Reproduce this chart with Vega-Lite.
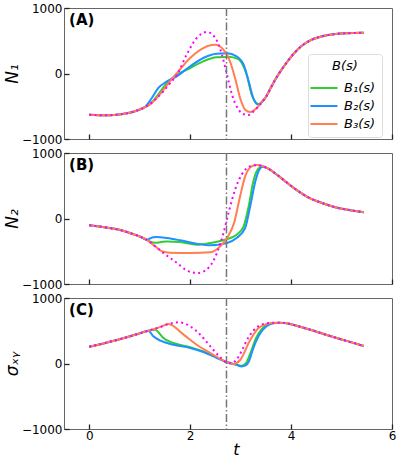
{
"$schema":"https://vega.github.io/schema/vega-lite/v6.json",
"padding":{"left":2,"top":1,"right":3,"bottom":0},
"background":"white",
"spacing":14,
"bounds":"flush",
"config":{"font":"DejaVu Sans","view":{"stroke":"#666","strokeWidth":1},
"axis":{"grid":false,"domain":false,"tickColor":"#222","tickSize":-5,"tickWidth":1.3,"labelFontSize":12,"labelColor":"#000","titleColor":"#000","titleFontWeight":"normal","labelFlush":false,"labelOverlap":false},
"axisY":{"labelPadding":7,"titlePadding":0,"titleFontSize":17,"titleFontStyle":"italic"},
"axisX":{"labelPadding":6,"titlePadding":0,"titleFontSize":16,"titleFontStyle":"italic"}},
"resolve":{"legend":{"color":"independent"}},
"datasets":{"curves":[
{"p":"A","s":"ref","t":0,"v":-630},{"p":"A","s":"ref","t":0.2,"v":-637},{"p":"A","s":"ref","t":0.4,"v":-636},{"p":"A","s":"ref","t":0.6,"v":-625},{"p":"A","s":"ref","t":0.8,"v":-600},{"p":"A","s":"ref","t":0.95,"v":-565},{"p":"A","s":"ref","t":1.1,"v":-515},{"p":"A","s":"ref","t":1.3,"v":-400},{"p":"A","s":"ref","t":1.47,"v":-272},{"p":"A","s":"ref","t":1.6,"v":-150},{"p":"A","s":"ref","t":1.74,"v":-18},{"p":"A","s":"ref","t":1.93,"v":287},{"p":"A","s":"ref","t":2.13,"v":542},{"p":"A","s":"ref","t":2.33,"v":634},{"p":"A","s":"ref","t":2.5,"v":542},{"p":"A","s":"ref","t":2.63,"v":287},{"p":"A","s":"ref","t":2.73,"v":-18},{"p":"A","s":"ref","t":2.83,"v":-323},{"p":"A","s":"ref","t":2.96,"v":-552},{"p":"A","s":"ref","t":3.09,"v":-628},{"p":"A","s":"ref","t":3.16,"v":-634},{"p":"A","s":"ref","t":3.22,"v":-603},{"p":"A","s":"ref","t":3.3,"v":-545},{"p":"A","s":"ref","t":3.4,"v":-460},{"p":"A","s":"ref","t":3.5,"v":-360},{"p":"A","s":"ref","t":3.6,"v":-215},{"p":"A","s":"ref","t":3.72,"v":-50},{"p":"A","s":"ref","t":3.85,"v":100},{"p":"A","s":"ref","t":4.05,"v":300},{"p":"A","s":"ref","t":4.2,"v":415},{"p":"A","s":"ref","t":4.38,"v":505},{"p":"A","s":"ref","t":4.6,"v":565},{"p":"A","s":"ref","t":4.84,"v":600},{"p":"A","s":"ref","t":5.1,"v":615},{"p":"A","s":"ref","t":5.44,"v":622},
{"p":"A","s":"B₁(s)","t":0,"v":-630},{"p":"A","s":"B₁(s)","t":0.2,"v":-637},{"p":"A","s":"B₁(s)","t":0.4,"v":-636},{"p":"A","s":"B₁(s)","t":0.6,"v":-625},{"p":"A","s":"B₁(s)","t":0.8,"v":-600},{"p":"A","s":"B₁(s)","t":0.95,"v":-565},{"p":"A","s":"B₁(s)","t":1.1,"v":-515},{"p":"A","s":"B₁(s)","t":1.2,"v":-470},{"p":"A","s":"B₁(s)","t":1.34,"v":-348},{"p":"A","s":"B₁(s)","t":1.54,"v":-145},{"p":"A","s":"B₁(s)","t":1.74,"v":-18},{"p":"A","s":"B₁(s)","t":2.0,"v":84},{"p":"A","s":"B₁(s)","t":2.26,"v":186},{"p":"A","s":"B₁(s)","t":2.52,"v":247},{"p":"A","s":"B₁(s)","t":2.79,"v":252},{"p":"A","s":"B₁(s)","t":2.92,"v":230},{"p":"A","s":"B₁(s)","t":2.99,"v":196},{"p":"A","s":"B₁(s)","t":3.05,"v":120},{"p":"A","s":"B₁(s)","t":3.12,"v":-18},{"p":"A","s":"B₁(s)","t":3.22,"v":-323},{"p":"A","s":"B₁(s)","t":3.3,"v":-440},{"p":"A","s":"B₁(s)","t":3.36,"v":-468},{"p":"A","s":"B₁(s)","t":3.42,"v":-435},{"p":"A","s":"B₁(s)","t":3.5,"v":-360},{"p":"A","s":"B₁(s)","t":3.6,"v":-215},{"p":"A","s":"B₁(s)","t":3.72,"v":-50},{"p":"A","s":"B₁(s)","t":3.85,"v":100},{"p":"A","s":"B₁(s)","t":4.05,"v":300},{"p":"A","s":"B₁(s)","t":4.2,"v":415},{"p":"A","s":"B₁(s)","t":4.38,"v":505},{"p":"A","s":"B₁(s)","t":4.6,"v":565},{"p":"A","s":"B₁(s)","t":4.84,"v":600},{"p":"A","s":"B₁(s)","t":5.1,"v":615},{"p":"A","s":"B₁(s)","t":5.44,"v":622},
{"p":"A","s":"B₂(s)","t":0,"v":-630},{"p":"A","s":"B₂(s)","t":0.2,"v":-637},{"p":"A","s":"B₂(s)","t":0.4,"v":-636},{"p":"A","s":"B₂(s)","t":0.6,"v":-625},{"p":"A","s":"B₂(s)","t":0.8,"v":-600},{"p":"A","s":"B₂(s)","t":0.95,"v":-565},{"p":"A","s":"B₂(s)","t":1.1,"v":-515},{"p":"A","s":"B₂(s)","t":1.24,"v":-374},{"p":"A","s":"B₂(s)","t":1.37,"v":-221},{"p":"A","s":"B₂(s)","t":1.54,"v":-120},{"p":"A","s":"B₂(s)","t":1.74,"v":-40},{"p":"A","s":"B₂(s)","t":2.0,"v":110},{"p":"A","s":"B₂(s)","t":2.26,"v":237},{"p":"A","s":"B₂(s)","t":2.52,"v":303},{"p":"A","s":"B₂(s)","t":2.73,"v":308},{"p":"A","s":"B₂(s)","t":2.92,"v":262},{"p":"A","s":"B₂(s)","t":3.06,"v":135},{"p":"A","s":"B₂(s)","t":3.16,"v":-120},{"p":"A","s":"B₂(s)","t":3.25,"v":-374},{"p":"A","s":"B₂(s)","t":3.31,"v":-460},{"p":"A","s":"B₂(s)","t":3.36,"v":-478},{"p":"A","s":"B₂(s)","t":3.42,"v":-440},{"p":"A","s":"B₂(s)","t":3.5,"v":-360},{"p":"A","s":"B₂(s)","t":3.6,"v":-215},{"p":"A","s":"B₂(s)","t":3.72,"v":-50},{"p":"A","s":"B₂(s)","t":3.85,"v":100},{"p":"A","s":"B₂(s)","t":4.05,"v":300},{"p":"A","s":"B₂(s)","t":4.2,"v":415},{"p":"A","s":"B₂(s)","t":4.38,"v":505},{"p":"A","s":"B₂(s)","t":4.6,"v":565},{"p":"A","s":"B₂(s)","t":4.84,"v":600},{"p":"A","s":"B₂(s)","t":5.1,"v":615},{"p":"A","s":"B₂(s)","t":5.44,"v":622},
{"p":"A","s":"B₃(s)","t":0,"v":-630},{"p":"A","s":"B₃(s)","t":0.2,"v":-637},{"p":"A","s":"B₃(s)","t":0.4,"v":-636},{"p":"A","s":"B₃(s)","t":0.6,"v":-625},{"p":"A","s":"B₃(s)","t":0.8,"v":-600},{"p":"A","s":"B₃(s)","t":0.95,"v":-565},{"p":"A","s":"B₃(s)","t":1.1,"v":-515},{"p":"A","s":"B₃(s)","t":1.2,"v":-475},{"p":"A","s":"B₃(s)","t":1.3,"v":-405},{"p":"A","s":"B₃(s)","t":1.47,"v":-250},{"p":"A","s":"B₃(s)","t":1.6,"v":-120},{"p":"A","s":"B₃(s)","t":1.74,"v":8},{"p":"A","s":"B₃(s)","t":2.0,"v":237},{"p":"A","s":"B₃(s)","t":2.26,"v":389},{"p":"A","s":"B₃(s)","t":2.42,"v":435},{"p":"A","s":"B₃(s)","t":2.5,"v":440},{"p":"A","s":"B₃(s)","t":2.58,"v":420},{"p":"A","s":"B₃(s)","t":2.66,"v":363},{"p":"A","s":"B₃(s)","t":2.79,"v":186},{"p":"A","s":"B₃(s)","t":2.89,"v":-69},{"p":"A","s":"B₃(s)","t":2.99,"v":-374},{"p":"A","s":"B₃(s)","t":3.09,"v":-552},{"p":"A","s":"B₃(s)","t":3.19,"v":-588},{"p":"A","s":"B₃(s)","t":3.32,"v":-527},{"p":"A","s":"B₃(s)","t":3.42,"v":-430},{"p":"A","s":"B₃(s)","t":3.5,"v":-360},{"p":"A","s":"B₃(s)","t":3.6,"v":-215},{"p":"A","s":"B₃(s)","t":3.72,"v":-50},{"p":"A","s":"B₃(s)","t":3.85,"v":100},{"p":"A","s":"B₃(s)","t":4.05,"v":300},{"p":"A","s":"B₃(s)","t":4.2,"v":415},{"p":"A","s":"B₃(s)","t":4.38,"v":505},{"p":"A","s":"B₃(s)","t":4.6,"v":565},{"p":"A","s":"B₃(s)","t":4.84,"v":600},{"p":"A","s":"B₃(s)","t":5.1,"v":615},{"p":"A","s":"B₃(s)","t":5.44,"v":622},
{"p":"B","s":"ref","t":0,"v":-104},{"p":"B","s":"ref","t":0.2,"v":-122},{"p":"B","s":"ref","t":0.4,"v":-145},{"p":"B","s":"ref","t":0.55,"v":-165},{"p":"B","s":"ref","t":0.7,"v":-195},{"p":"B","s":"ref","t":0.88,"v":-241},{"p":"B","s":"ref","t":1.0,"v":-275},{"p":"B","s":"ref","t":1.14,"v":-325},{"p":"B","s":"ref","t":1.3,"v":-420},{"p":"B","s":"ref","t":1.47,"v":-527},{"p":"B","s":"ref","t":1.74,"v":-679},{"p":"B","s":"ref","t":1.93,"v":-791},{"p":"B","s":"ref","t":2.05,"v":-825},{"p":"B","s":"ref","t":2.16,"v":-832},{"p":"B","s":"ref","t":2.26,"v":-810},{"p":"B","s":"ref","t":2.36,"v":-756},{"p":"B","s":"ref","t":2.45,"v":-660},{"p":"B","s":"ref","t":2.53,"v":-527},{"p":"B","s":"ref","t":2.66,"v":-221},{"p":"B","s":"ref","t":2.76,"v":84},{"p":"B","s":"ref","t":2.89,"v":440},{"p":"B","s":"ref","t":3.02,"v":669},{"p":"B","s":"ref","t":3.1,"v":750},{"p":"B","s":"ref","t":3.19,"v":797},{"p":"B","s":"ref","t":3.32,"v":815},{"p":"B","s":"ref","t":3.42,"v":805},{"p":"B","s":"ref","t":3.55,"v":760},{"p":"B","s":"ref","t":3.7,"v":680},{"p":"B","s":"ref","t":3.85,"v":590},{"p":"B","s":"ref","t":4.1,"v":440},{"p":"B","s":"ref","t":4.31,"v":335},{"p":"B","s":"ref","t":4.6,"v":240},{"p":"B","s":"ref","t":4.84,"v":180},{"p":"B","s":"ref","t":5.15,"v":130},{"p":"B","s":"ref","t":5.44,"v":95},
{"p":"B","s":"B₁(s)","t":0,"v":-104},{"p":"B","s":"B₁(s)","t":0.2,"v":-122},{"p":"B","s":"B₁(s)","t":0.4,"v":-145},{"p":"B","s":"B₁(s)","t":0.55,"v":-165},{"p":"B","s":"B₁(s)","t":0.7,"v":-195},{"p":"B","s":"B₁(s)","t":0.88,"v":-241},{"p":"B","s":"B₁(s)","t":1.0,"v":-275},{"p":"B","s":"B₁(s)","t":1.14,"v":-325},{"p":"B","s":"B₁(s)","t":1.2,"v":-350},{"p":"B","s":"B₁(s)","t":1.31,"v":-372},{"p":"B","s":"B₁(s)","t":1.42,"v":-360},{"p":"B","s":"B₁(s)","t":1.54,"v":-350},{"p":"B","s":"B₁(s)","t":1.8,"v":-359},{"p":"B","s":"B₁(s)","t":2.13,"v":-400},{"p":"B","s":"B₁(s)","t":2.4,"v":-374},{"p":"B","s":"B₁(s)","t":2.73,"v":-313},{"p":"B","s":"B₁(s)","t":2.92,"v":-247},{"p":"B","s":"B₁(s)","t":3.06,"v":-119},{"p":"B","s":"B₁(s)","t":3.16,"v":186},{"p":"B","s":"B₁(s)","t":3.25,"v":560},{"p":"B","s":"B₁(s)","t":3.34,"v":750},{"p":"B","s":"B₁(s)","t":3.42,"v":795},{"p":"B","s":"B₁(s)","t":3.55,"v":760},{"p":"B","s":"B₁(s)","t":3.7,"v":680},{"p":"B","s":"B₁(s)","t":3.85,"v":590},{"p":"B","s":"B₁(s)","t":4.1,"v":440},{"p":"B","s":"B₁(s)","t":4.31,"v":335},{"p":"B","s":"B₁(s)","t":4.6,"v":240},{"p":"B","s":"B₁(s)","t":4.84,"v":180},{"p":"B","s":"B₁(s)","t":5.15,"v":130},{"p":"B","s":"B₁(s)","t":5.44,"v":95},
{"p":"B","s":"B₂(s)","t":0,"v":-104},{"p":"B","s":"B₂(s)","t":0.2,"v":-122},{"p":"B","s":"B₂(s)","t":0.4,"v":-145},{"p":"B","s":"B₂(s)","t":0.55,"v":-165},{"p":"B","s":"B₂(s)","t":0.7,"v":-195},{"p":"B","s":"B₂(s)","t":0.88,"v":-241},{"p":"B","s":"B₂(s)","t":1.0,"v":-275},{"p":"B","s":"B₂(s)","t":1.14,"v":-325},{"p":"B","s":"B₂(s)","t":1.2,"v":-305},{"p":"B","s":"B₂(s)","t":1.27,"v":-285},{"p":"B","s":"B₂(s)","t":1.34,"v":-282},{"p":"B","s":"B₂(s)","t":1.54,"v":-298},{"p":"B","s":"B₂(s)","t":1.8,"v":-333},{"p":"B","s":"B₂(s)","t":2.13,"v":-385},{"p":"B","s":"B₂(s)","t":2.4,"v":-410},{"p":"B","s":"B₂(s)","t":2.73,"v":-374},{"p":"B","s":"B₂(s)","t":2.92,"v":-298},{"p":"B","s":"B₂(s)","t":3.09,"v":-145},{"p":"B","s":"B₂(s)","t":3.19,"v":186},{"p":"B","s":"B₂(s)","t":3.29,"v":560},{"p":"B","s":"B₂(s)","t":3.37,"v":745},{"p":"B","s":"B₂(s)","t":3.44,"v":790},{"p":"B","s":"B₂(s)","t":3.55,"v":760},{"p":"B","s":"B₂(s)","t":3.7,"v":680},{"p":"B","s":"B₂(s)","t":3.85,"v":590},{"p":"B","s":"B₂(s)","t":4.1,"v":440},{"p":"B","s":"B₂(s)","t":4.31,"v":335},{"p":"B","s":"B₂(s)","t":4.6,"v":240},{"p":"B","s":"B₂(s)","t":4.84,"v":180},{"p":"B","s":"B₂(s)","t":5.15,"v":130},{"p":"B","s":"B₂(s)","t":5.44,"v":95},
{"p":"B","s":"B₃(s)","t":0,"v":-104},{"p":"B","s":"B₃(s)","t":0.2,"v":-122},{"p":"B","s":"B₃(s)","t":0.4,"v":-145},{"p":"B","s":"B₃(s)","t":0.55,"v":-165},{"p":"B","s":"B₃(s)","t":0.7,"v":-195},{"p":"B","s":"B₃(s)","t":0.88,"v":-241},{"p":"B","s":"B₃(s)","t":1.0,"v":-275},{"p":"B","s":"B₃(s)","t":1.14,"v":-325},{"p":"B","s":"B₃(s)","t":1.3,"v":-420},{"p":"B","s":"B₃(s)","t":1.45,"v":-505},{"p":"B","s":"B₃(s)","t":1.6,"v":-522},{"p":"B","s":"B₃(s)","t":2.0,"v":-527},{"p":"B","s":"B₃(s)","t":2.4,"v":-516},{"p":"B","s":"B₃(s)","t":2.56,"v":-450},{"p":"B","s":"B₃(s)","t":2.73,"v":-298},{"p":"B","s":"B₃(s)","t":2.87,"v":-69},{"p":"B","s":"B₃(s)","t":2.99,"v":339},{"p":"B","s":"B₃(s)","t":3.09,"v":644},{"p":"B","s":"B₃(s)","t":3.22,"v":797},{"p":"B","s":"B₃(s)","t":3.32,"v":815},{"p":"B","s":"B₃(s)","t":3.42,"v":805},{"p":"B","s":"B₃(s)","t":3.55,"v":760},{"p":"B","s":"B₃(s)","t":3.7,"v":680},{"p":"B","s":"B₃(s)","t":3.85,"v":590},{"p":"B","s":"B₃(s)","t":4.1,"v":440},{"p":"B","s":"B₃(s)","t":4.31,"v":335},{"p":"B","s":"B₃(s)","t":4.6,"v":240},{"p":"B","s":"B₃(s)","t":4.84,"v":180},{"p":"B","s":"B₃(s)","t":5.15,"v":130},{"p":"B","s":"B₃(s)","t":5.44,"v":95},
{"p":"C","s":"ref","t":0,"v":257},{"p":"C","s":"ref","t":0.3,"v":310},{"p":"C","s":"ref","t":0.55,"v":359},{"p":"C","s":"ref","t":0.81,"v":415},{"p":"C","s":"ref","t":1.0,"v":460},{"p":"C","s":"ref","t":1.17,"v":501},{"p":"C","s":"ref","t":1.4,"v":555},{"p":"C","s":"ref","t":1.57,"v":603},{"p":"C","s":"ref","t":1.77,"v":628},{"p":"C","s":"ref","t":1.9,"v":610},{"p":"C","s":"ref","t":2.0,"v":568},{"p":"C","s":"ref","t":2.1,"v":510},{"p":"C","s":"ref","t":2.2,"v":440},{"p":"C","s":"ref","t":2.4,"v":262},{"p":"C","s":"ref","t":2.59,"v":100},{"p":"C","s":"ref","t":2.73,"v":15},{"p":"C","s":"ref","t":2.83,"v":10},{"p":"C","s":"ref","t":2.92,"v":60},{"p":"C","s":"ref","t":3.02,"v":190},{"p":"C","s":"ref","t":3.12,"v":350},{"p":"C","s":"ref","t":3.25,"v":500},{"p":"C","s":"ref","t":3.4,"v":590},{"p":"C","s":"ref","t":3.6,"v":620},{"p":"C","s":"ref","t":3.78,"v":623},{"p":"C","s":"ref","t":4.0,"v":600},{"p":"C","s":"ref","t":4.18,"v":562},{"p":"C","s":"ref","t":4.45,"v":500},{"p":"C","s":"ref","t":4.71,"v":435},{"p":"C","s":"ref","t":5.0,"v":367},{"p":"C","s":"ref","t":5.2,"v":322},{"p":"C","s":"ref","t":5.44,"v":267},
{"p":"C","s":"B₁(s)","t":0,"v":257},{"p":"C","s":"B₁(s)","t":0.3,"v":310},{"p":"C","s":"B₁(s)","t":0.55,"v":359},{"p":"C","s":"B₁(s)","t":0.81,"v":415},{"p":"C","s":"B₁(s)","t":1.0,"v":460},{"p":"C","s":"B₁(s)","t":1.17,"v":501},{"p":"C","s":"B₁(s)","t":1.31,"v":516},{"p":"C","s":"B₁(s)","t":1.4,"v":450},{"p":"C","s":"B₁(s)","t":1.47,"v":389},{"p":"C","s":"B₁(s)","t":1.67,"v":313},{"p":"C","s":"B₁(s)","t":2.0,"v":250},{"p":"C","s":"B₁(s)","t":2.26,"v":186},{"p":"C","s":"B₁(s)","t":2.53,"v":90},{"p":"C","s":"B₁(s)","t":2.73,"v":20},{"p":"C","s":"B₁(s)","t":2.92,"v":-20},{"p":"C","s":"B₁(s)","t":3.02,"v":-35},{"p":"C","s":"B₁(s)","t":3.1,"v":0},{"p":"C","s":"B₁(s)","t":3.19,"v":150},{"p":"C","s":"B₁(s)","t":3.3,"v":380},{"p":"C","s":"B₁(s)","t":3.42,"v":530},{"p":"C","s":"B₁(s)","t":3.55,"v":600},{"p":"C","s":"B₁(s)","t":3.65,"v":618},{"p":"C","s":"B₁(s)","t":3.78,"v":623},{"p":"C","s":"B₁(s)","t":4.0,"v":600},{"p":"C","s":"B₁(s)","t":4.18,"v":562},{"p":"C","s":"B₁(s)","t":4.45,"v":500},{"p":"C","s":"B₁(s)","t":4.71,"v":435},{"p":"C","s":"B₁(s)","t":5.0,"v":367},{"p":"C","s":"B₁(s)","t":5.2,"v":322},{"p":"C","s":"B₁(s)","t":5.44,"v":267},
{"p":"C","s":"B₂(s)","t":0,"v":257},{"p":"C","s":"B₂(s)","t":0.3,"v":310},{"p":"C","s":"B₂(s)","t":0.55,"v":359},{"p":"C","s":"B₂(s)","t":0.81,"v":415},{"p":"C","s":"B₂(s)","t":1.0,"v":460},{"p":"C","s":"B₂(s)","t":1.17,"v":501},{"p":"C","s":"B₂(s)","t":1.27,"v":415},{"p":"C","s":"B₂(s)","t":1.41,"v":348},{"p":"C","s":"B₂(s)","t":1.67,"v":287},{"p":"C","s":"B₂(s)","t":2.0,"v":237},{"p":"C","s":"B₂(s)","t":2.26,"v":176},{"p":"C","s":"B₂(s)","t":2.53,"v":84},{"p":"C","s":"B₂(s)","t":2.73,"v":18},{"p":"C","s":"B₂(s)","t":2.92,"v":-20},{"p":"C","s":"B₂(s)","t":3.02,"v":-45},{"p":"C","s":"B₂(s)","t":3.1,"v":-30},{"p":"C","s":"B₂(s)","t":3.16,"v":27},{"p":"C","s":"B₂(s)","t":3.25,"v":232},{"p":"C","s":"B₂(s)","t":3.39,"v":461},{"p":"C","s":"B₂(s)","t":3.52,"v":572},{"p":"C","s":"B₂(s)","t":3.65,"v":615},{"p":"C","s":"B₂(s)","t":3.78,"v":623},{"p":"C","s":"B₂(s)","t":4.0,"v":600},{"p":"C","s":"B₂(s)","t":4.18,"v":562},{"p":"C","s":"B₂(s)","t":4.45,"v":500},{"p":"C","s":"B₂(s)","t":4.71,"v":435},{"p":"C","s":"B₂(s)","t":5.0,"v":367},{"p":"C","s":"B₂(s)","t":5.2,"v":322},{"p":"C","s":"B₂(s)","t":5.44,"v":267},
{"p":"C","s":"B₃(s)","t":0,"v":257},{"p":"C","s":"B₃(s)","t":0.3,"v":310},{"p":"C","s":"B₃(s)","t":0.55,"v":359},{"p":"C","s":"B₃(s)","t":0.81,"v":415},{"p":"C","s":"B₃(s)","t":1.0,"v":460},{"p":"C","s":"B₃(s)","t":1.17,"v":501},{"p":"C","s":"B₃(s)","t":1.4,"v":555},{"p":"C","s":"B₃(s)","t":1.57,"v":603},{"p":"C","s":"B₃(s)","t":1.87,"v":440},{"p":"C","s":"B₃(s)","t":2.13,"v":287},{"p":"C","s":"B₃(s)","t":2.4,"v":160},{"p":"C","s":"B₃(s)","t":2.66,"v":43},{"p":"C","s":"B₃(s)","t":2.76,"v":5},{"p":"C","s":"B₃(s)","t":2.86,"v":-8},{"p":"C","s":"B₃(s)","t":2.99,"v":53},{"p":"C","s":"B₃(s)","t":3.19,"v":359},{"p":"C","s":"B₃(s)","t":3.35,"v":537},{"p":"C","s":"B₃(s)","t":3.5,"v":600},{"p":"C","s":"B₃(s)","t":3.65,"v":620},{"p":"C","s":"B₃(s)","t":3.78,"v":623},{"p":"C","s":"B₃(s)","t":4.0,"v":600},{"p":"C","s":"B₃(s)","t":4.18,"v":562},{"p":"C","s":"B₃(s)","t":4.45,"v":500},{"p":"C","s":"B₃(s)","t":4.71,"v":435},{"p":"C","s":"B₃(s)","t":5.0,"v":367},{"p":"C","s":"B₃(s)","t":5.2,"v":322},{"p":"C","s":"B₃(s)","t":5.44,"v":267}
]},
"vconcat":[
{"width":328,"height":131,"layer":[
{"data":{"name":"curves"},"transform":[{"filter":"datum.p==='A' && datum.s!=='ref'"}],"mark":{"type":"line","strokeWidth":2,"interpolate":"monotone"},
"encoding":{"x":{"field":"t","type":"quantitative","scale":{"domain":[-0.5,6],"nice":false,"zero":false},"axis":{"values":[0,2,4,6],"labels":false,"title":null}},
"y":{"field":"v","type":"quantitative","scale":{"domain":[-1000,1000],"nice":false},"axis":{"values":[-1000,-500,0,500,1000],"labelExpr":"datum.value === 0 ? '0' : datum.value === 1000 ? '1000' : datum.value === -1000 ? '−1000' : ''","title":"N₁"}},
"color":{"field":"s","type":"nominal","scale":{"domain":["B₁(s)","B₂(s)","B₃(s)"],"range":["#32cd32","#1e90ff","#ff7f50"]},
"legend":{"orient":"none","legendX":244,"legendY":46,"title":"B(s)","titleFontStyle":"italic","titleFontWeight":"normal","titleFontSize":13,"titleAnchor":"middle","titleColor":"#000","labelFontSize":13,"labelFontStyle":"italic","labelColor":"#000","symbolType":"M-1.5,0L1.5,0","symbolStrokeWidth":2,"symbolSize":324,"strokeColor":"#ddd","fillColor":"white","padding":6,"cornerRadius":3,"rowPadding":1,"titlePadding":5,"labelOffset":10}}}},
{"data":{"name":"curves"},"transform":[{"filter":"datum.p==='A' && datum.s==='ref'"}],"mark":{"type":"line","strokeWidth":2,"color":"#ff00ff","strokeDash":[2,3.3],"interpolate":"monotone"},
"encoding":{"x":{"field":"t","type":"quantitative"},"y":{"field":"v","type":"quantitative"}}},
{"data":{"values":[{}]},"mark":{"type":"rule","color":"#777","strokeWidth":1.5,"strokeDash":[8,2.5,1.5,2.5]},"encoding":{"x":{"datum":2.72}}},
{"data":{"values":[{}]},"mark":{"type":"text","fontWeight":"bold","fontSize":15,"align":"left","baseline":"middle"},"encoding":{"x":{"datum":-0.4},"y":{"datum":810},"text":{"value":"(A)"}}}
]},
{"width":328,"height":131,"layer":[
{"data":{"name":"curves"},"transform":[{"filter":"datum.p==='B' && datum.s!=='ref'"}],"mark":{"type":"line","strokeWidth":2,"interpolate":"monotone"},
"encoding":{"x":{"field":"t","type":"quantitative","scale":{"domain":[-0.5,6],"nice":false,"zero":false},"axis":{"values":[0,2,4,6],"labels":false,"title":null}},
"y":{"field":"v","type":"quantitative","scale":{"domain":[-1000,1000],"nice":false},"axis":{"values":[-1000,-500,0,500,1000],"labelExpr":"datum.value === 0 ? '0' : datum.value === 1000 ? '1000' : datum.value === -1000 ? '−1000' : ''","title":"N₂"}},
"color":{"field":"s","type":"nominal","scale":{"domain":["B₁(s)","B₂(s)","B₃(s)"],"range":["#32cd32","#1e90ff","#ff7f50"]},"legend":null}}},
{"data":{"name":"curves"},"transform":[{"filter":"datum.p==='B' && datum.s==='ref'"}],"mark":{"type":"line","strokeWidth":2,"color":"#ff00ff","strokeDash":[2,3.3],"interpolate":"monotone"},
"encoding":{"x":{"field":"t","type":"quantitative"},"y":{"field":"v","type":"quantitative"}}},
{"data":{"values":[{}]},"mark":{"type":"rule","color":"#777","strokeWidth":1.5,"strokeDash":[8,2.5,1.5,2.5]},"encoding":{"x":{"datum":2.72}}},
{"data":{"values":[{}]},"mark":{"type":"text","fontWeight":"bold","fontSize":15,"align":"left","baseline":"middle"},"encoding":{"x":{"datum":-0.4},"y":{"datum":810},"text":{"value":"(B)"}}}
]},
{"width":328,"height":131,"layer":[
{"data":{"name":"curves"},"transform":[{"filter":"datum.p==='C' && datum.s!=='ref'"}],"mark":{"type":"line","strokeWidth":2,"interpolate":"monotone"},
"encoding":{"x":{"field":"t","type":"quantitative","scale":{"domain":[-0.5,6],"nice":false,"zero":false},"axis":{"values":[0,2,4,6],"title":"t","titleX":172}},
"y":{"field":"v","type":"quantitative","scale":{"domain":[-1000,1000],"nice":false},"axis":{"values":[-1000,-500,0,500,1000],"labelExpr":"datum.value === 0 ? '0' : datum.value === 1000 ? '1000' : datum.value === -1000 ? '−1000' : ''","title":"σₓᵧ"}},
"color":{"field":"s","type":"nominal","scale":{"domain":["B₁(s)","B₂(s)","B₃(s)"],"range":["#32cd32","#1e90ff","#ff7f50"]},"legend":null}}},
{"data":{"name":"curves"},"transform":[{"filter":"datum.p==='C' && datum.s==='ref'"}],"mark":{"type":"line","strokeWidth":2,"color":"#ff00ff","strokeDash":[2,3.3],"interpolate":"monotone"},
"encoding":{"x":{"field":"t","type":"quantitative"},"y":{"field":"v","type":"quantitative"}}},
{"data":{"values":[{}]},"mark":{"type":"rule","color":"#777","strokeWidth":1.5,"strokeDash":[8,2.5,1.5,2.5]},"encoding":{"x":{"datum":2.72}}},
{"data":{"values":[{}]},"mark":{"type":"text","fontWeight":"bold","fontSize":15,"align":"left","baseline":"middle"},"encoding":{"x":{"datum":-0.4},"y":{"datum":810},"text":{"value":"(C)"}}}
]}
]
}
